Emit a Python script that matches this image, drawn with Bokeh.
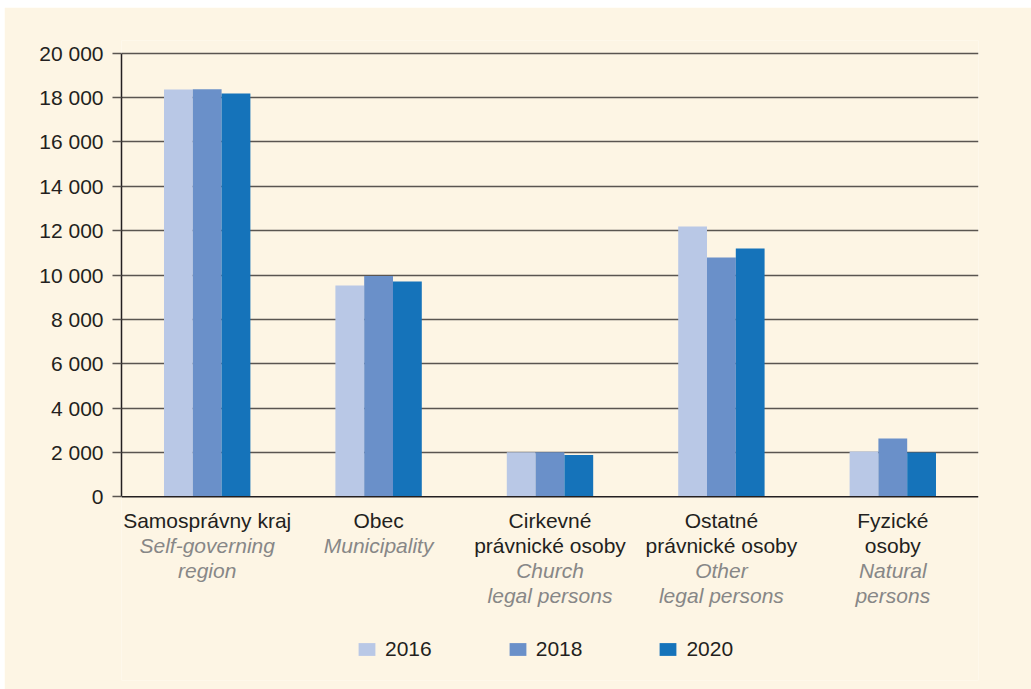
from bokeh.plotting import figure
from bokeh.models import ColumnDataSource, FactorRange, Range1d, FixedTicker, Span, Legend, LegendItem, Spacer
from bokeh.layouts import column, row
from bokeh.transform import dodge
from bokeh.core.properties import value
from bokeh.embed import file_html
from bokeh.resources import INLINE

# ---- data ----
categories = ["Samosprávny kraj", "Obec", "Cirkevné právnické osoby",
              "Ostatné právnické osoby", "Fyzické osoby"]
labels_sk = [["Samosprávny kraj"], ["Obec"], ["Cirkevné", "právnické osoby"],
             ["Ostatné", "právnické osoby"], ["Fyzické", "osoby"]]
labels_en = [["Self-governing", "region"], ["Municipality"], ["Church", "legal persons"],
             ["Other", "legal persons"], ["Natural", "persons"]]
years = ["2016", "2018", "2020"]
v2016 = [18360, 9530, 2010, 12190, 2040]
v2018 = [18370, 9950, 2010, 10790, 2630]
v2020 = [18180, 9710, 1880, 11200, 2000]
y_ticks = [0, 2000, 4000, 6000, 8000, 10000, 12000, 14000, 16000, 18000, 20000]
y_tick_labels = ["0", "2 000", "4 000", "6 000", "8 000", "10 000", "12 000",
                 "14 000", "16 000", "18 000", "20 000"]

# ---- style ----
BG = "#fdf5e4"
TXT = "#231f20"
GRAY = "#878787"
COLORS = ["#b9c8e6", "#6a90c9", "#1573ba"]
FONT = "Liberation Sans"
FS = "21px"

OX, OY = 4, 7                     # panel offset on the page
W, H = 1027, 682
B_LEFT, B_RIGHT, B_TOP, B_BOTTOM = 117, 53, 33, 9
frame_h = H - B_TOP - B_BOTTOM
px_per_unit = 22.18 / 1000.0
zero_px_from_top = 496.3 - OY - B_TOP
y_end = zero_px_from_top / px_per_unit
y_start = -(frame_h - zero_px_from_top) / px_per_unit

p = figure(width=W, height=H, output_backend="svg", toolbar_location=None,
           x_range=FactorRange(*categories, range_padding=0),
           y_range=Range1d(y_start, y_end), x_axis_location=None,
           min_border_left=B_LEFT, min_border_right=B_RIGHT,
           min_border_top=B_TOP, min_border_bottom=B_BOTTOM,
           background_fill_color=BG, border_fill_color=BG)
p.outline_line_color = None

source = ColumnDataSource(dict(cat=categories, y2016=v2016, y2018=v2018, y2020=v2020))

bw = 0.168
renderers = []
for i, (yr, col) in enumerate(zip(years, COLORS)):
    r = p.vbar(x=dodge("cat", (i - 1) * bw, range=p.x_range), top="y" + yr, bottom=0,
               width=bw, source=source, fill_color=col, line_color=None)
    renderers.append(r)

# y axis
yax = p.yaxis[0]
yax.ticker = FixedTicker(ticks=y_ticks)
yax.bounds = (0, 20000)
yax.major_label_overrides = {t: l for t, l in zip(y_ticks, y_tick_labels)}
yax.axis_line_color = TXT
yax.axis_line_width = 1.5
yax.major_tick_line_color = "#5a5550"
yax.major_tick_line_width = 1.5
yax.major_tick_in = 0
yax.major_tick_out = 9
yax.minor_tick_line_color = None
yax.major_label_standoff = 9
yax.major_label_text_font = FONT
yax.major_label_text_font_size = FS
yax.major_label_text_color = TXT

p.xgrid.visible = False
p.ygrid.ticker = FixedTicker(ticks=y_ticks[1:])
p.ygrid.grid_line_color = "#5a5550"
p.ygrid.grid_line_width = 1.5

zero = Span(location=0, dimension="width", line_color=TXT, line_width=1.6)
p.add_layout(zero)

# category labels under the axis (one text row per line)
line_px = 25.3
first_base_px = 527 - 496.3 - 7.5
xs, ys, ts, xs2, ys2, ts2 = [], [], [], [], [], []
for c, sk, en in zip(categories, labels_sk, labels_en):
    k = 0
    for line in sk:
        xs.append(c); ys.append(-(first_base_px + k * line_px) / px_per_unit); ts.append(line)
        k += 1
    for line in en:
        xs2.append(c); ys2.append(-(first_base_px + k * line_px) / px_per_unit); ts2.append(line)
        k += 1

p.text(x=xs, y=ys, text=ts, text_align="center", text_baseline="alphabetic",
       text_font=value(FONT), text_font_size=FS, text_color=TXT)
p.text(x=xs2, y=ys2, text=ts2, text_align="center", text_baseline="alphabetic",
       text_font=value(FONT), text_font_size=FS, text_color=GRAY, text_font_style="italic")

legend = Legend(items=[LegendItem(label=yr, renderers=[r]) for yr, r in zip(years, renderers)],
                orientation="horizontal", location=(235, 19),
                glyph_width=21, glyph_height=16, label_standoff=8, spacing=75,
                padding=0, margin=0, border_line_color=None, background_fill_alpha=0,
                label_text_font=FONT, label_text_font_size=FS, label_text_color=TXT,
                label_height=20)
p.add_layout(legend)

layout = column(Spacer(height=OY), row(Spacer(width=OX), p))
open("out.html", "w").write(file_html(layout, INLINE))
